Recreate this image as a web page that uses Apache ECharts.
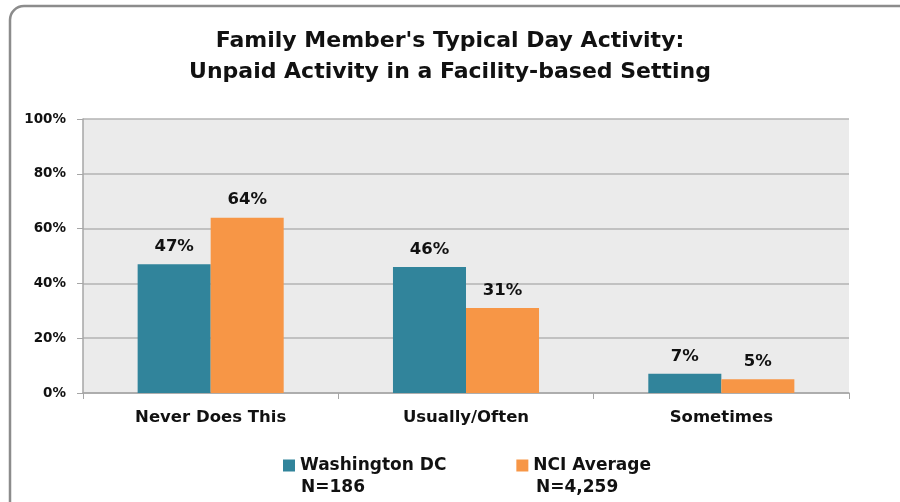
<!DOCTYPE html>
<html>
<head>
<meta charset="utf-8">
<script src="https://cdn.jsdelivr.net/npm/echarts@6/dist/echarts.min.js"></script>
<style>
html, body { margin: 0; padding: 0; background: #fff; }
#main { width: 900px; height: 502px; }
</style>
</head>
<body>
<div id="main"></div>
<script>
// 数据
var categories = ['Never Does This', 'Usually/Often', 'Sometimes'];
var seriesNames = ['Washington DC', 'NCI Average'];
var sampleSizes = ['N=186', 'N=4,259'];
var dcValues = [47, 46, 7];
var nciValues = [64, 31, 5];

var FONT = '"DejaVu Sans", "Open Sans", sans-serif';
var myChart = echarts.init(document.getElementById('main'));

var labelStyle = {
    show: true,
    position: 'top',
    distance: 9,
    formatter: '{c}%',
    color: '#111',
    fontFamily: FONT,
    fontWeight: 'bold',
    fontSize: 16.5
};

var option = {
    backgroundColor: '#fff',
    animation: false,
    title: {
        text: "Family Member's Typical Day Activity:\nUnpaid Activity in a Facility-based Setting",
        left: 'center',
        top: 21,
        textStyle: {
            fontFamily: FONT,
            fontWeight: 'bold',
            fontSize: 22,
            lineHeight: 31,
            color: '#111'
        }
    },
    legend: {
        data: seriesNames,
        left: 278,
        top: 452,
        itemWidth: 12,
        itemHeight: 12,
        itemGap: 70,
        icon: 'rect',
        textStyle: {
            fontFamily: FONT,
            fontWeight: 'bold',
            fontSize: 17,
            color: '#111'
        }
    },
    grid: {
        left: 83,
        right: 51,
        top: 119,
        bottom: 109,
        show: true,
        backgroundColor: '#ebebeb',
        borderWidth: 0
    },
    xAxis: {
        type: 'category',
        data: categories,
        axisLine: { lineStyle: { color: '#a6a6a6', width: 1.5 } },
        axisTick: { show: true, length: 6, lineStyle: { color: '#a6a6a6' } },
        axisLabel: {
            margin: 16,
            fontFamily: FONT,
            fontWeight: 'bold',
            fontSize: 16.5,
            color: '#111'
        }
    },
    yAxis: {
        type: 'value',
        min: 0,
        max: 100,
        interval: 20,
        axisLine: { show: true, lineStyle: { color: '#a6a6a6', width: 1.5 } },
        axisTick: { show: true, length: 6, lineStyle: { color: '#a6a6a6' } },
        splitLine: { lineStyle: { color: '#b3b3b3', width: 1.5 } },
        axisLabel: {
            formatter: '{value}%',
            margin: 17,
            fontFamily: FONT,
            fontWeight: 'bold',
            fontSize: 13.5,
            color: '#111'
        }
    },
    series: [
        {
            name: seriesNames[0],
            type: 'bar',
            data: dcValues,
            barWidth: '28.6%',
            barGap: '0%',
            itemStyle: { color: '#31849b' },
            label: labelStyle
        },
        {
            name: seriesNames[1],
            type: 'bar',
            data: nciValues,
            barWidth: '28.6%',
            barGap: '0%',
            itemStyle: { color: '#f79646' },
            label: labelStyle
        }
    ],
    graphic: [
        // 外框
        {
            type: 'rect',
            silent: true,
            shape: { x: 10, y: 6, width: 920, height: 520, r: 14 },
            style: { fill: 'none', stroke: '#8c8c8c', lineWidth: 2.5 }
        },
        {
            type: 'text',
            left: 301,
            top: 479,
            style: { text: sampleSizes[0], fontFamily: FONT, fontWeight: 'bold', fontSize: 17, fill: '#111' }
        },
        {
            type: 'text',
            left: 536,
            top: 479,
            style: { text: sampleSizes[1], fontFamily: FONT, fontWeight: 'bold', fontSize: 17, fill: '#111' }
        }
    ]
};

myChart.setOption(option);
</script>
</body>
</html>
